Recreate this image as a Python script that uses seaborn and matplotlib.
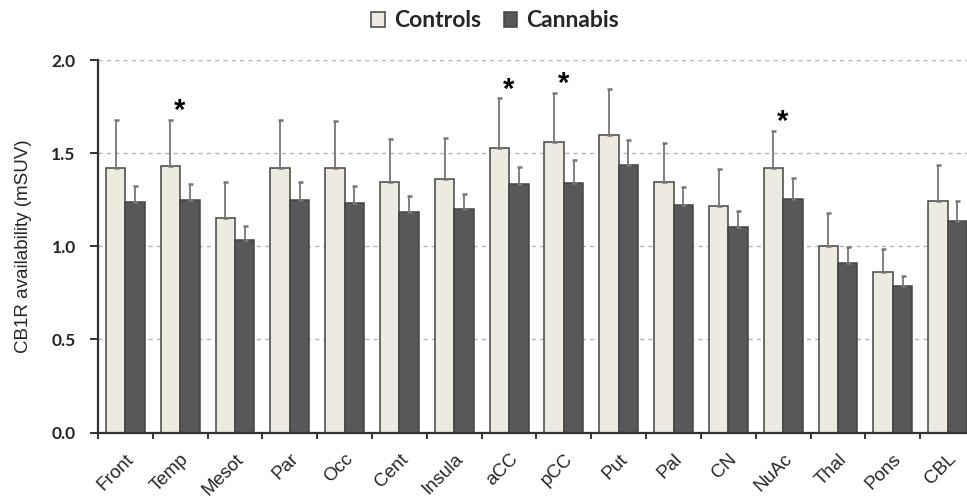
import numpy as np
import pandas as pd
import matplotlib
matplotlib.use("Agg")
import matplotlib.pyplot as plt
import matplotlib.transforms as mtransforms
from matplotlib.ticker import FixedLocator
import seaborn as sns

# Data
regions = ["Front", "Temp", "Mesot", "Par", "Occ", "Cent", "Insula", "aCC",
           "pCC", "Put", "Pal", "CN", "NuAc", "Thal", "Pons", "CBL"]
controls_mean = [1.42, 1.43, 1.15, 1.42, 1.42, 1.345, 1.36, 1.53,
                 1.56, 1.595, 1.345, 1.215, 1.42, 1.0, 0.863, 1.245]
controls_sd = [0.26, 0.25, 0.195, 0.26, 0.25, 0.23, 0.22, 0.265,
               0.265, 0.25, 0.21, 0.20, 0.20, 0.18, 0.12, 0.19]
cannabis_mean = [1.236, 1.246, 1.034, 1.246, 1.232, 1.186, 1.202, 1.332,
                 1.341, 1.437, 1.22, 1.105, 1.255, 0.911, 0.788, 1.138]
cannabis_sd = [0.09, 0.09, 0.075, 0.10, 0.093, 0.084, 0.078, 0.095,
               0.122, 0.136, 0.098, 0.082, 0.109, 0.084, 0.055, 0.107]
significant = ["Temp", "aCC", "pCC", "NuAc"]
groups = ["Controls", "Cannabis"]

df = pd.DataFrame({
    "region": regions * 2,
    "group": [groups[0]] * len(regions) + [groups[1]] * len(regions),
    "value": controls_mean + cannabis_mean,
})

sns.set_style("white")
plt.rcParams["font.family"] = ["Liberation Sans", "DejaVu Sans"]

fig = plt.figure(figsize=(9.67, 4.98), dpi=100)
# the right edge of the axes runs slightly past the figure, as in the source
ax = fig.add_axes([0.1013, 0.1315, 0.907, 0.748])

colors = {"Controls": "#edebdf", "Cannabis": "#585858"}
sns.barplot(data=df, x="region", y="value", hue="group", order=regions,
            hue_order=groups, palette=colors, width=0.71, saturation=1,
            edgecolor="#444444", linewidth=1.1, ax=ax, legend=True)

# upward-only error bars and significance stars
sds = [controls_sd, cannabis_sd]
means = [controls_mean, cannabis_mean]
bar_sets = list(ax.containers)
for k, cont in enumerate(bar_sets):
    xs = [p.get_x() + p.get_width() / 2 for p in cont.patches]
    err = np.array(sds[k])
    ax.errorbar(xs, means[k], yerr=[np.zeros_like(err), err], fmt="none",
                ecolor="#767676", elinewidth=1.3, capsize=1.8, capthick=1.8,
                zorder=1)
    if k == 0:
        for i, r in enumerate(regions):
            if r in significant:
                ax.text(xs[i] + 0.165, means[k][i] + sds[k][i] - 0.03, "*",
                        ha="center", va="bottom", fontsize=21,
                        fontweight="bold", color="black")

ax.set_ylim(0, 2.0)
ax.set_xlim(-0.5, len(regions) - 0.5)
ax.set_yticks([0.0, 0.5, 1.0, 1.5, 2.0])
ax.set_yticklabels(["0.0", "0.5", "1.0", "1.5", "2.0"], fontweight="bold",
                   fontsize=12.5, family=["Lato", "DejaVu Sans"])
ax.yaxis.grid(True, color="#b5b5b5", linestyle=(0, (3, 3)), linewidth=1.0)
ax.set_axisbelow(True)

ax.set_xticks(range(len(regions)))
ax.set_xticklabels(regions, rotation=45, ha="right", rotation_mode="anchor",
                   fontsize=13.5)
shift = mtransforms.ScaledTranslation(7 / 100, 0, fig.dpi_scale_trans)
for lab in ax.get_xticklabels():
    lab.set_transform(lab.get_transform() + shift)
ax.tick_params(axis="x", which="major", length=0, pad=13)
ax.xaxis.set_minor_locator(FixedLocator(np.arange(-0.5, len(regions), 1.0)))
ax.tick_params(axis="x", which="minor", length=4.5, width=1.4, direction="out",
               bottom=True, color="#333333")
ax.tick_params(axis="y", length=6, width=1.4, direction="out", left=True,
               color="#333333", pad=10)

ax.set_xlabel("")
ax.set_ylabel("CB1R availability (mSUV)", fontsize=13.5, labelpad=14)

for s in ["top", "right"]:
    ax.spines[s].set_visible(False)
for s in ["left", "bottom"]:
    ax.spines[s].set_color("#333333")
    ax.spines[s].set_linewidth(1.6)

handles, labels = ax.get_legend_handles_labels()
ax.get_legend().remove()
fig.legend(handles, labels, loc="center", bbox_to_anchor=(0.512, 0.958),
           ncol=2, frameon=False, handlelength=0.6, handleheight=0.6,
           handletextpad=0.4, columnspacing=1.0,
           prop={"family": ["Lato", "DejaVu Sans"], "weight": "bold",
                 "size": 16.5})

fig.savefig("out.png", dpi=100)
